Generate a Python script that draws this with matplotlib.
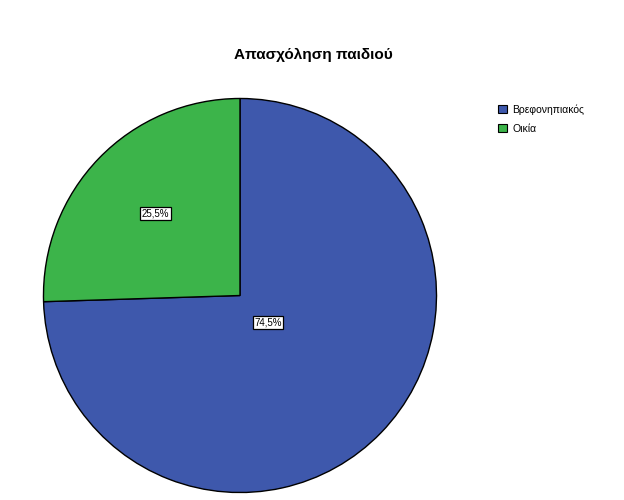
import numpy as np
import matplotlib.pyplot as plt
from matplotlib.patches import Patch

plt.rcParams['font.family'] = ['Liberation Sans', 'DejaVu Sans']

title = "Απασχόληση παιδιού"
categories = ["Βρεφονηπιακός", "Οικία"]
values = [74.5, 25.5]
labels = ["74,5%", "25,5%"]
colors = ["#3e58ac", "#3cb44a"]
label_dist = [0.2, 0.6]

fig = plt.figure(figsize=(6.24, 5.0), dpi=100)
fig.patch.set_facecolor('white')

# pie axes: square box in pixels, radius 1 fills it
ax = fig.add_axes([0.0681, 0.013, 0.633, 0.792])
wedges, _ = ax.pie(values, colors=colors, startangle=90, counterclock=False,
                   wedgeprops=dict(edgecolor='black', linewidth=1.0))
ax.set_xlim(-1.005, 1.005)
ax.set_ylim(-1.005, 1.005)
ax.set_aspect('auto')
ax.axis('off')

for w, lab, d in zip(wedges, labels, label_dist):
    ang = np.deg2rad((w.theta1 + w.theta2) / 2)
    ax.text(d * np.cos(ang), d * np.sin(ang), lab, ha='center', va='center',
            fontsize=7, color='black',
            bbox=dict(boxstyle='square,pad=0.15', facecolor='white',
                      edgecolor='black', linewidth=0.9))

fig.text(0.502, 0.89, title, ha='center', va='center', fontsize=11,
         fontweight='bold')

handles = [Patch(facecolor=c, edgecolor='black', linewidth=0.8) for c in colors]
fig.legend(handles, categories, loc='upper left', bbox_to_anchor=(0.792, 0.8),
           frameon=False, fontsize=7.5, handlelength=0.8, handleheight=0.8,
           handletextpad=0.55, labelspacing=0.9, borderaxespad=0)

fig.savefig("out.png", dpi=100, facecolor='white')
